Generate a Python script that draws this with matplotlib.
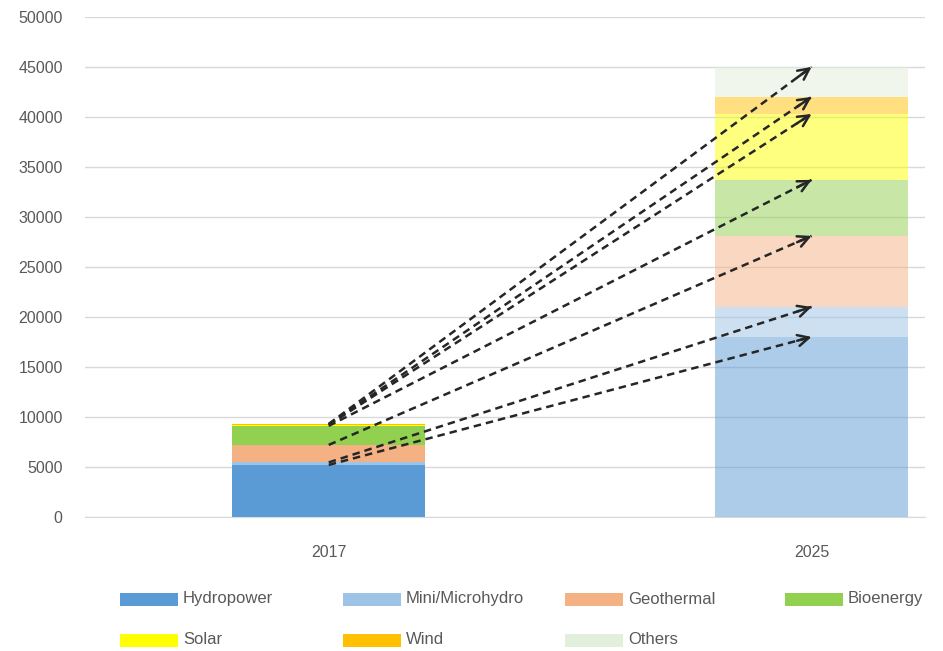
import matplotlib.pyplot as plt
from matplotlib.patches import Rectangle

plt.rcParams['font.family'] = ['Liberation Sans Narrow', 'Liberation Sans', 'DejaVu Sans']

# installed capacity by source (MW)
years = ['2017', '2025']
sources = ['Hydropower', 'Mini/Microhydro', 'Geothermal', 'Bioenergy', 'Solar', 'Wind', 'Others']
cap_2017 = [5200, 250, 1750, 1900, 100, 50, 50]
cap_2025 = [18000, 3000, 7100, 5600, 6600, 1700, 3000]
colors = ['#5B9BD5', '#9DC3E6', '#F4B183', '#92D050', '#FFFF00', '#FFC000', '#E2EFDA']

fig = plt.figure(figsize=(9.43, 6.51), dpi=100)
ax = fig.add_axes([0.090, 0.206, 0.891, 0.768])

# stacked bars, the 2025 target drawn faded
bottom17 = 0
bottom25 = 0
tops17 = []
tops25 = []
for name, v17, v25, c in zip(sources, cap_2017, cap_2025, colors):
    ax.bar(0, v17, width=0.4, bottom=bottom17, color=c, zorder=2)
    ax.bar(1, v25, width=0.4, bottom=bottom25, color=c, alpha=0.5, zorder=2)
    bottom17 += v17
    bottom25 += v25
    tops17.append(bottom17)
    tops25.append(bottom25)

# dashed arrows linking each segment top in 2017 to the same segment in 2025
for y0, y1 in zip(tops17, tops25):
    ax.plot([0, 1], [y0, y1], ls=(0, (3, 2)), lw=1.8, color='#262626', zorder=4)
    t = 0.97
    ax.annotate('', xy=(1, y1), xytext=(t, y0 + t * (y1 - y0)),
                arrowprops=dict(arrowstyle='->', lw=1.8, color='#262626',
                                mutation_scale=20, shrinkA=0, shrinkB=0),
                zorder=5)

ax.set_xlim(-0.505, 1.235)
ax.set_ylim(0, 50000)
ax.set_yticks(range(0, 50001, 5000))
ax.set_xticks([0, 1])
ax.set_xticklabels(years)
ax.grid(axis='y', color='#D9D9D9', lw=1, zorder=0)
ax.tick_params(axis='both', length=0, labelsize=11.5, labelcolor='#595959')
ax.tick_params(axis='y', pad=16)
ax.tick_params(axis='x', pad=20)
for s in ['top', 'right', 'left']:
    ax.spines[s].set_visible(False)
ax.spines['bottom'].set_color('#D9D9D9')

# legend laid out in evenly spaced columns under the chart
col_x = [120, 343, 565, 785]
row_y = [599, 640]
W, H = 943, 651
for i, (name, c) in enumerate(zip(sources, colors)):
    x = col_x[i % 4]
    y = row_y[i // 4]
    fig.add_artist(Rectangle((x / W, 1 - (y + 6.5) / H), 58 / W, 13 / H,
                             transform=fig.transFigure, color=c, lw=0))
    fig.text((x + 63) / W, 1 - y / H, name, fontsize=12, color='#595959',
             va='center', ha='left')

fig.savefig('out.png', dpi=100)
